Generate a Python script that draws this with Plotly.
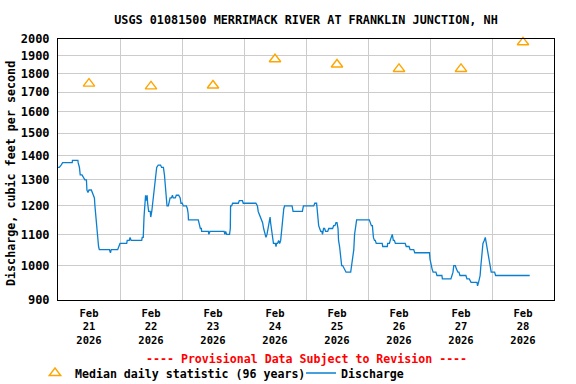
import math
import pandas as pd
import plotly.graph_objects as go

chart_title = "USGS 01081500 MERRIMACK RIVER AT FRANKLIN JUNCTION, NH"
y_title = "Discharge, cubic feet per second"
provisional_note = "---- Provisional Data Subject to Revision ----"
median_name = "Median daily statistic (96 years)"
discharge_name = "Discharge"

period_start = "2026-02-21 00:00"
period_end = "2026-03-01 00:00"

# Discharge (cfs): hours after Feb 21 00:00 and value
q_hours = [
    0.0, 0.5, 1.2, 1.8, 5.5, 5.6, 7.7, 7.8, 8.3, 8.6, 9.3, 9.7, 10.4, 11.0, 11.2, 11.6,
    12.0, 12.9, 13.3, 13.7, 14.1, 14.3, 14.7, 15.1, 15.4, 15.7, 16.0, 19.9, 20.3, 20.6,
    23.1, 23.5, 24.0, 26.6, 26.8, 27.6, 27.9, 28.3, 32.4, 32.6, 33.0, 33.3, 33.7, 33.9,
    34.2, 34.5, 34.7, 35.1, 35.7, 35.9, 36.3, 36.5, 37.0, 37.4, 37.8, 38.2, 38.8, 39.7,
    40.1, 40.8, 41.2, 41.6, 41.9, 42.2, 42.7, 43.0, 43.4, 43.9, 44.3, 44.6, 45.4, 45.8,
    46.7, 47.3, 47.6, 48.1, 48.5, 49.7, 50.1, 50.4, 50.5, 54.3, 54.7, 55.1, 55.5, 55.6,
    58.2, 58.4, 58.8, 64.3, 64.6, 64.9, 65.3, 66.4, 66.7, 66.8, 67.2, 67.6, 69.8, 70.2,
    71.4, 71.7,
    76.6, 77.2, 77.5, 77.9, 78.4, 78.8, 79.2, 79.6, 80.1, 80.5, 80.9, 81.3, 81.7, 82.1,
    82.3, 82.6, 83.0, 83.4, 84.1, 84.4, 84.6, 85.0, 85.4, 85.8, 86.2, 86.6, 87.0, 87.4,
    87.7, 90.6, 91.0, 94.6, 95.0, 99.0, 99.4, 100.1, 100.5, 100.9, 101.3, 101.7, 102.1,
    102.4, 102.8, 103.2, 103.6, 104.4, 104.8, 106.3, 106.7, 107.2, 107.6, 108.0, 108.4,
    108.6, 109.0, 109.4, 109.8, 110.2, 111.0, 111.5, 113.3, 113.7, 114.1, 114.5, 114.8,
    115.2, 115.6, 120.5, 120.9, 121.3, 121.7, 122.1, 122.5, 122.8, 123.2, 125.5, 125.7,
    127.5, 127.6, 128.3, 128.6, 129.0, 129.4, 129.8, 130.2, 130.6, 134.4, 134.8, 135.9,
    136.3, 137.7, 138.1, 143.8,
    144.0, 144.4, 144.8, 145.2, 146.3, 146.7, 148.6, 148.8, 152.1, 152.5, 152.9, 153.2,
    153.8, 154.2, 154.8, 155.2, 155.6, 157.9, 158.3, 159.2, 159.9, 162.2, 162.4, 162.8,
    163.4, 163.7, 164.1, 164.5, 165.0, 165.4, 165.8, 166.2, 166.6, 167.0, 167.4, 167.7,
    169.0, 169.4, 182.6,
]
q_cfs = [
    1350, 1350, 1360, 1370, 1370, 1380, 1380, 1370, 1350, 1320, 1320, 1310, 1300, 1300, 1260, 1250,
    1260, 1260, 1250, 1240, 1230, 1200, 1150, 1120, 1070, 1060, 1050, 1050, 1040, 1050,
    1050, 1060, 1070, 1070, 1080, 1080, 1090, 1080, 1080, 1090, 1090, 1160, 1200, 1240,
    1220, 1240, 1210, 1180, 1180, 1160, 1180, 1200, 1230, 1290, 1330, 1350, 1360, 1360,
    1350, 1350, 1320, 1270, 1220, 1200, 1200, 1220, 1230, 1230, 1240, 1230, 1230, 1240,
    1240, 1230, 1210, 1210, 1200, 1200, 1190, 1170, 1150, 1150, 1130, 1120, 1120, 1110,
    1110, 1100, 1110, 1110, 1100, 1110, 1100, 1100, 1120, 1200, 1200, 1210, 1210, 1220,
    1220, 1210,
    1210, 1200, 1180, 1170, 1160, 1150, 1140, 1120, 1100, 1090, 1100, 1120, 1140, 1160,
    1140, 1120, 1080, 1070, 1070, 1060, 1070, 1070, 1080, 1070, 1080, 1120, 1150, 1190,
    1200, 1200, 1180, 1180, 1200, 1200, 1210, 1210, 1170, 1130, 1120, 1110, 1110,
    1100, 1120, 1120, 1110, 1110, 1120, 1120, 1130, 1130, 1140, 1140, 1120,
    1080, 1060, 1030, 1000, 1000, 990, 980, 980, 1000, 1020, 1050, 1100,
    1130, 1150, 1150, 1140, 1130, 1130, 1090, 1080, 1080, 1070, 1070, 1060,
    1060, 1070, 1070, 1080, 1090, 1100, 1080, 1080, 1070, 1070, 1060, 1060,
    1050, 1050, 1040, 1040,
    1020, 1000, 990, 980, 980, 970, 970, 960, 960, 970, 980, 1000,
    1000, 990, 980, 980, 970, 970, 960, 960, 950, 950, 940, 950,
    970, 1000, 1040, 1070, 1080, 1090, 1070, 1050, 1030, 1000, 990, 980,
    980, 970, 970,
]

# Median daily statistic (cfs), one per day
median_days = ["21", "22", "23", "24", "25", "26", "27", "28"]
median_cfs = [1745, 1730, 1735, 1880, 1850, 1825, 1825, 1980]

y_ticks = [900, 1000, 1100, 1200, 1300, 1400, 1500, 1600, 1700, 1800, 1900, 2000]

font_family = "DejaVu Sans Mono"

q_times = pd.Timestamp(period_start) + pd.to_timedelta(q_hours, unit="h")
noon_times = [pd.Timestamp(f"2026-02-{d} 12:00") for d in median_days]
midnights = [pd.Timestamp(f"2026-02-{d} 00:00") for d in median_days] + [pd.Timestamp(period_end)]
x_ticktext = [f"Feb<br>{d}<br>2026" for d in median_days]

fig = go.Figure()
fig.add_trace(go.Scatter(
    x=noon_times, y=median_cfs, mode="markers", name=median_name,
    marker=dict(symbol="triangle-up-open", size=10, color="#FFA500",
                line=dict(width=1.4, color="#FFA500")),
    legend="legend", cliponaxis=False,
))
fig.add_trace(go.Scatter(
    x=q_times, y=q_cfs, mode="lines", name=discharge_name,
    line=dict(color="#0A7FD0", width=1.3),
    legend="legend2",
))

legend_font = dict(family=font_family, size=11.6, color="black", weight="bold")

fig.update_layout(
    width=576, height=384,
    margin=dict(l=58, r=22, t=39, b=84, autoexpand=False),
    paper_bgcolor="white", plot_bgcolor="white",
    font=dict(family=font_family, size=12, color="black"),
    title=dict(text=chart_title, x=(58 + 554) / 2 / 576, xanchor="center",
               y=1 - 20 / 384, yanchor="middle",
               font=dict(family=font_family, size=11.8, color="black", weight="bold")),
    showlegend=True,
    legend=dict(orientation="h", x=(35 - 58) / 496, xanchor="left",
                y=(300 - 373) / 261, yanchor="middle", bgcolor="rgba(0,0,0,0)",
                font=legend_font, itemwidth=30),
    legend2=dict(orientation="h", x=(301 - 58) / 496, xanchor="left",
                 y=(300 - 373) / 261, yanchor="middle", bgcolor="rgba(0,0,0,0)",
                 font=legend_font, itemwidth=30),
    annotations=[
        dict(text=provisional_note, xref="paper", yref="paper",
             x=0.5, y=(300 - 359) / 261, xanchor="center", yanchor="middle",
             showarrow=False,
             font=dict(family=font_family, size=11.6, color="#FF0000", weight="bold")),
        dict(text=y_title, xref="paper", yref="paper", textangle=-90,
             x=(11 - 58) / 496, y=(300 - 174) / 261, xanchor="center", yanchor="middle",
             showarrow=False,
             font=dict(family=font_family, size=11.7, color="black", weight="bold")),
    ],
)

fig.update_xaxes(
    type="date", automargin=False,
    range=[period_start, period_end],
    tickmode="array", tickvals=noon_times, ticktext=x_ticktext,
    tickfont=dict(family=font_family, size=10.5, color="black", weight="bold"),
    ticks="", showgrid=False, ticklabelstandoff=3,
    minor=dict(tickmode="array", tickvals=midnights, showgrid=True,
               gridcolor="#CCCCCC", gridwidth=1, ticks=""),
    showline=True, linecolor="black", linewidth=1, mirror=True, zeroline=False,
)
fig.update_yaxes(
    type="log", automargin=False,
    range=[math.log10(900), math.log10(2000)],
    tickmode="array", tickvals=y_ticks, ticktext=[str(v) for v in y_ticks],
    tickfont=dict(family=font_family, size=12, color="black", weight="bold"),
    ticks="", showgrid=True, gridcolor="#CCCCCC", gridwidth=1,
    ticklabelstandoff=5,
    showline=True, linecolor="black", linewidth=1, mirror=True, zeroline=False,
)

fig.write_html("out.html", config={"displayModeBar": False},
               post_script="document.body.style.margin='0px';")
